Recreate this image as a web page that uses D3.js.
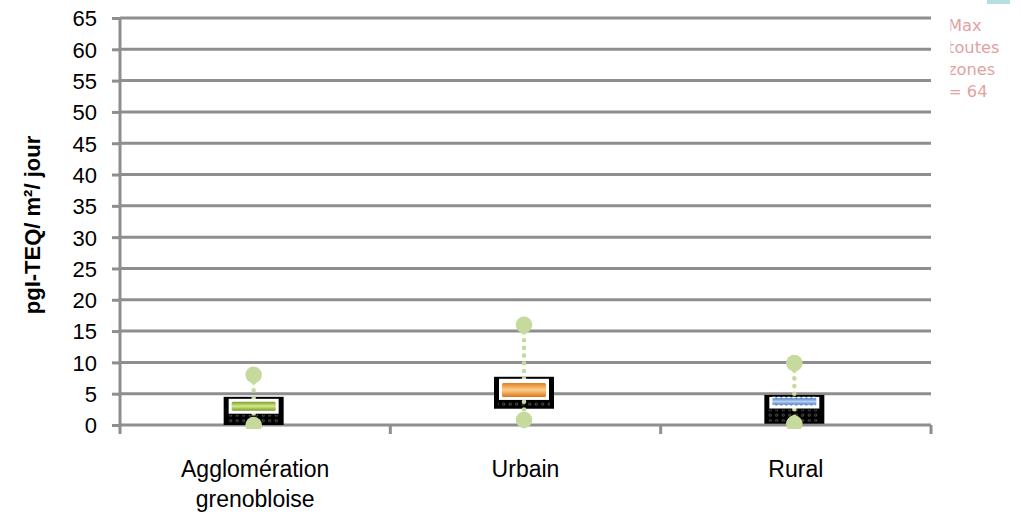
<!DOCTYPE html>
<html>
<head>
<meta charset="utf-8">
<script src="https://cdn.jsdelivr.net/npm/d3@7/dist/d3.min.js"></script>
<style>
  html, body { margin: 0; padding: 0; background: #fff; }
  svg { display: block; }
</style>
</head>
<body>
<svg id="chart" width="1021" height="514"></svg>
<script>
// Dioxin deposition (pg I-TEQ / m² / day) by zone type
const categories = [["Agglomération", "grenobloise"], ["Urbain"], ["Rural"]];
const minValues = [0, 0.8, 0.2];
const q1Values = [0, 2.6, 0.2];
const medianValues = [3.0, 5.6, 3.75];
const q3Values = [4.5, 7.7, 4.8];
const maxValues = [8, 16, 9.9];
const yTickValues = [0, 5, 10, 15, 20, 25, 30, 35, 40, 45, 50, 55, 60, 65];
const noteLines = ["Max", "toutes", "zones", "= 64"];
const yAxisTitle = "pgI-TEQ/ m²/ jour";

const svg = d3.select("#chart");
const defs = svg.append("defs");

const plotLeft = 120, plotRight = 931, plotTop = 18, plotBottom = 425;
const gridColor = "#8e8e8e";
const whiskerColor = "#c6da9e";

const y = d3.scaleLinear().domain([0, 65]).range([plotBottom, plotTop]);
const x = d3.scaleBand().domain(d3.range(categories.length)).range([plotLeft, plotRight]).padding(0);

// bar styling per zone
const barGradients = [
  ["#7a9f26", "#d4ea8a", "#7a9f26"],
  ["#e27c1e", "#fbd08a", "#dc761c"],
  ["#3f73c2", "#b4d0f2", "#3f73c2"]
];
const barHeights = [9, 14, 8];
barGradients.forEach((stops, i) => {
  const g = defs.append("linearGradient").attr("id", "bar" + i)
    .attr("x1", 0).attr("y1", 0).attr("x2", 0).attr("y2", 1);
  g.append("stop").attr("offset", "0%").attr("stop-color", stops[0]);
  g.append("stop").attr("offset", "50%").attr("stop-color", stops[1]);
  g.append("stop").attr("offset", "100%").attr("stop-color", stops[2]);
});

// small ring texture inside the dark boxes
const pat = defs.append("pattern").attr("id", "rings")
  .attr("patternUnits", "userSpaceOnUse").attr("width", 6.5).attr("height", 5.5);
pat.append("rect").attr("width", 6.5).attr("height", 5.5).attr("fill", "#000");
pat.append("circle").attr("cx", 3.2).attr("cy", 2.7).attr("r", 1.2)
  .attr("fill", "none").attr("stroke", "#6a6a6a").attr("stroke-width", 0.8);

defs.append("clipPath").attr("id", "plotClip")
  .append("rect").attr("x", plotLeft - 10).attr("y", 0).attr("width", plotRight - plotLeft + 20).attr("height", 429);
defs.append("clipPath").attr("id", "noteClip")
  .append("rect").attr("x", 950.5).attr("y", 0).attr("width", 80).attr("height", 120);

// horizontal gridlines
svg.append("g").selectAll("line").data(yTickValues).join("line")
  .attr("x1", plotLeft).attr("x2", plotRight)
  .attr("y1", d => y(d)).attr("y2", d => y(d))
  .attr("stroke", gridColor).attr("stroke-width", 3);

// y axis
const yAxis = svg.append("g").attr("transform", `translate(${plotLeft},0)`)
  .call(d3.axisLeft(y).tickValues(yTickValues).tickSize(8).tickPadding(15));
yAxis.select(".domain").remove();
yAxis.selectAll(".tick line").attr("stroke", gridColor).attr("stroke-width", 3);
yAxis.selectAll(".tick text")
  .attr("font-family", "'Liberation Sans', Arial, sans-serif")
  .attr("font-size", 22).attr("fill", "#000").attr("dy", "0.36em");
svg.append("line").attr("x1", plotLeft).attr("x2", plotLeft)
  .attr("y1", plotTop).attr("y2", plotBottom + 9)
  .attr("stroke", gridColor).attr("stroke-width", 3);

// x axis boundary ticks
const boundaries = categories.map((c, i) => x(i)).concat([x(categories.length - 1) + x.bandwidth()]);
svg.append("g").selectAll("line").data(boundaries.slice(1)).join("line")
  .attr("x1", d => d).attr("x2", d => d)
  .attr("y1", plotBottom).attr("y2", plotBottom + 9)
  .attr("stroke", gridColor).attr("stroke-width", 3);

// category labels
const labels = svg.append("g")
  .attr("font-family", "'Liberation Sans', Arial, sans-serif")
  .attr("font-size", 23).attr("fill", "#000").attr("text-anchor", "middle");
categories.forEach((lines, i) => {
  const t = labels.append("text").attr("x", x(i) + x.bandwidth() / 2).attr("y", 477);
  lines.forEach((ln, j) => t.append("tspan").attr("x", x(i) + x.bandwidth() / 2).attr("dy", j ? 30 : 0).text(ln));
});

// y axis title
svg.append("text")
  .attr("transform", "translate(40,225) rotate(-90)")
  .attr("text-anchor", "middle")
  .attr("font-family", "'Liberation Sans', Arial, sans-serif")
  .attr("font-weight", "bold").attr("font-size", 22).attr("fill", "#000")
  .text(yAxisTitle);

// boxes
const plot = svg.append("g").attr("clip-path", "url(#plotClip)");
const boxW = 60;
categories.forEach((c, i) => {
  const cx = x(i) + x.bandwidth() / 2 - 1.5;
  const yQ3 = y(q3Values[i]), yQ1 = y(q1Values[i]), yMed = y(medianValues[i]);
  const bh = barHeights[i];
  const g = plot.append("g");
  // dark interquartile box
  g.append("rect").attr("x", cx - boxW / 2).attr("y", yQ3)
    .attr("width", boxW).attr("height", yQ1 - yQ3).attr("fill", "#000");
  const whiteBottom = yMed + bh / 2 + 3;
  g.append("rect").attr("x", cx - boxW / 2 + 4).attr("y", whiteBottom + 1)
    .attr("width", boxW - 8).attr("height", Math.max(0, yQ1 - whiteBottom - 3))
    .attr("fill", "url(#rings)");
  // dotted whisker
  g.append("line").attr("x1", cx).attr("x2", cx)
    .attr("y1", y(maxValues[i])).attr("y2", y(minValues[i]))
    .attr("stroke", whiskerColor).attr("stroke-width", 4.6)
    .attr("stroke-linecap", "round").attr("stroke-dasharray", "0 7.7");
  // white frame and median bar
  g.append("rect").attr("x", cx - boxW / 2 + 5).attr("y", yQ3 + 2)
    .attr("width", boxW - 10).attr("height", whiteBottom - yQ3 - 2)
    .attr("fill", "#fff");
  g.append("rect").attr("x", cx - boxW / 2 + 8).attr("y", yMed - bh / 2)
    .attr("width", boxW - 16).attr("height", bh).attr("rx", 1.5)
    .attr("fill", `url(#bar${i})`);
  if (i === 2) {
    [yMed - bh / 2, yMed + bh / 2].forEach(yy => g.append("line")
      .attr("x1", cx - boxW / 2 + 8).attr("x2", cx + boxW / 2 - 8)
      .attr("y1", yy).attr("y2", yy)
      .attr("stroke", "#fff").attr("stroke-width", 1.5).attr("stroke-dasharray", "3 2"));
  }
  // min / max markers
  g.selectAll("circle.end").data([maxValues[i], minValues[i]]).join("circle")
    .attr("class", "end").attr("cx", cx).attr("cy", d => y(d)).attr("r", 8.3)
    .attr("fill", whiskerColor);
});

// small accent bar in the corner
svg.append("rect").attr("x", 987).attr("y", 0).attr("width", 23).attr("height", 4).attr("fill", "#b8dfe0");

// overall maximum note
const note = svg.append("text").attr("clip-path", "url(#noteClip)")
  .attr("font-family", "'DejaVu Sans', Verdana, sans-serif")
  .attr("font-size", 16.3).attr("fill", "#e3a1a1");
noteLines.forEach((ln, j) => note.append("tspan").attr("x", 948).attr("y", 31 + j * 22).text(ln));
</script>
</body>
</html>
